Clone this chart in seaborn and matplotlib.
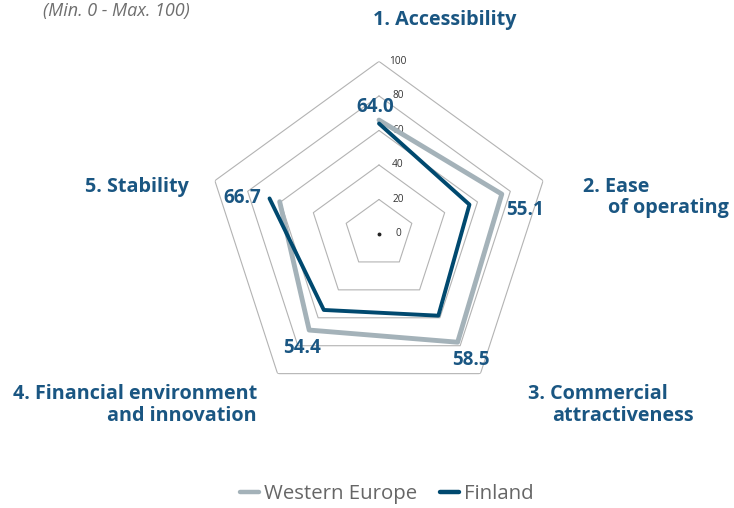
import numpy as np
import pandas as pd
import matplotlib
matplotlib.use("Agg")
import matplotlib.pyplot as plt
import seaborn as sns
from matplotlib.lines import Line2D

categories = ["1. Accessibility", "2. Ease of operating", "3. Commercial attractiveness",
              "4. Financial environment and innovation", "5. Stability"]
western_europe = [66.0, 74.8, 77.5, 68.8, 60.5]
finland = [64.0, 55.1, 58.5, 54.4, 66.7]
finland_labels = ["64.0", "55.1", "58.5", "54.4", "66.7"]
ring_values = [20, 40, 60, 80, 100]
tick_labels = ["0", "20", "40", "60", "80", "100"]

sns.set_theme(style="white")
plt.rcParams['font.family'] = ['Open Sans', 'DejaVu Sans']

W, H = 734, 508
fig = plt.figure(figsize=(W / 100, H / 100), dpi=100)
cx, cy, R = 379, 234, 172.6
ax = fig.add_axes([(cx - R) / W, 1 - (cy + R) / H, 2 * R / W, 2 * R / H], projection='polar')
ax.set_theta_offset(np.pi / 2)
ax.set_theta_direction(-1)
ax.set_ylim(0, 100)
ax.grid(False)
ax.spines['polar'].set_visible(False)
ax.patch.set_alpha(0)

n = len(categories)
angles = np.arange(n) * 2 * np.pi / n
closed = np.append(angles, angles[0])

# pentagon grid
for rv in ring_values:
    ax.plot(closed, [rv] * (n + 1), color="#b3b3b3", lw=0.8, zorder=1)
ax.plot([0], [0], marker='o', ms=1.8, color="#222222", zorder=2)
for i, lab in enumerate(tick_labels):
    ax.annotate(lab, xy=(0, i * 20), xytext=(19, 0), textcoords='offset pixels',
                ha='center', va='center', fontsize=7.3, color="#333333", zorder=3)

df = pd.DataFrame({
    "theta": np.concatenate([closed, closed]),
    "value": western_europe + [western_europe[0]] + finland + [finland[0]],
    "series": ["Western Europe"] * (n + 1) + ["Finland"] * (n + 1),
})
gray = "#a4b2b9"
blue = "#00496f"
sns.lineplot(data=df[df.series == "Western Europe"], x="theta", y="value", sort=False,
             color=gray, lw=3.5, ax=ax, legend=False, zorder=4)
sns.lineplot(data=df[df.series == "Finland"], x="theta", y="value", sort=False,
             color=blue, lw=2.8, ax=ax, legend=False, zorder=5)
ax.set_xlabel("")
ax.set_ylabel("")
ax.set_xticks([])
ax.set_yticks([])

lab_color = "#1a5682"
offsets = [(-4, 17), (56, -5), (33, -44), (-22, -38), (-27, 0)]
for a, v, t, off in zip(angles, finland, finland_labels, offsets):
    ax.annotate(t, xy=(a, v), xytext=off, textcoords='offset pixels', ha='center', va='center',
                fontsize=13.5, fontweight='bold', color=lab_color, zorder=6)

def ftext(x, y, s, ha='left'):
    fig.text(x / W, 1 - y / H, s, va='center', ha=ha, fontsize=14.2, fontweight='bold',
             color=lab_color)

ftext(373, 20, "1. Accessibility")
ftext(583, 187, "2. Ease")
ftext(608, 208, "of operating")
ftext(528, 394, "3. Commercial")
ftext(552, 416, "attractiveness")
ftext(257, 394, "4. Financial environment", ha='right')
ftext(257, 416, "and innovation", ha='right')
ftext(85, 187, "5. Stability")

fig.text(43 / W, 1 - 11 / H, "(Min. 0 - Max. 100)", va='center', ha='left', fontsize=13,
         fontstyle='italic', color="#6e6e6e")

handles = [Line2D([0], [0], color=gray, lw=3.2), Line2D([0], [0], color=blue, lw=3.2)]
leg = fig.legend(handles, ["Western Europe", "Finland"], loc='center', bbox_to_anchor=(0.527, 1 - 494 / H),
                 ncol=2, frameon=False, fontsize=14.7, handlelength=0.95, handletextpad=0.25,
                 columnspacing=1.1)
for t in leg.get_texts():
    t.set_color("#666666")

fig.savefig("out.png", dpi=100)
